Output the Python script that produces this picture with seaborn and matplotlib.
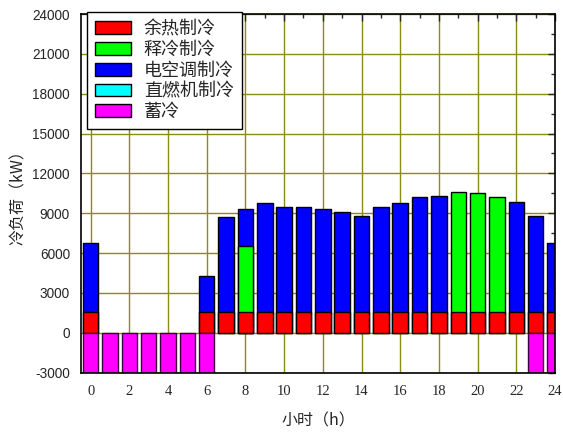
import numpy as np
import pandas as pd
import matplotlib
matplotlib.use("Agg")
import matplotlib.pyplot as plt
from matplotlib.patches import Patch
from matplotlib.ticker import MultipleLocator
import seaborn as sns

hours = list(range(25))
waste_heat = [1600, 0, 0, 0, 0, 0, 1600] + [1600] * 18
release = [0] * 25
release[8] = 4900
release[19] = 9000
release[20] = 8950
release[21] = 8600
electric = [5150, 0, 0, 0, 0, 0, 2700, 7100, 2800, 8200, 7850, 7850, 7700, 7500,
            7200, 7850, 8200, 8600, 8700, 0, 0, 0, 8250, 7200, 5150]
direct_fired = [0] * 25
storage = [-3000] * 7 + [0] * 16 + [-3000, -3000]

labels = ["余热制冷", "释冷制冷", "电空调制冷", "直燃机制冷", "蓄冷"]
colors = ["#ff0000", "#00ff00", "#0000ff", "#00ffff", "#ff00ff"]
x_ticks = list(range(0, 25, 2))
y_ticks = list(range(-3000, 24001, 3000))

sns.set_style("white")
plt.rcParams['font.family'] = ['Noto Sans CJK SC', 'DejaVu Sans']

fig = plt.figure(figsize=(5.63, 4.34), dpi=100)
ax = fig.add_axes([81/563, 1 - 372.7/434, (555-81)/563, (372.7-14)/434])

df = pd.DataFrame({"hour": hours, "red": waste_heat, "green": release,
                   "blue": electric, "cyan": direct_fired, "mag": storage})
df["cum_red"] = df["red"]
df["cum_green"] = df["red"] + df["green"]
df["cum_blue"] = df["cum_green"] + df["cyan"] + df["blue"]

ax.set_axisbelow(True)
grid_c = "#8c8c14"
for xv in x_ticks:
    ax.axvline(xv, color=grid_c, lw=1.0, zorder=0)
for yv in y_ticks:
    ax.axhline(yv, color=grid_c, lw=1.0, zorder=0)

layers = [("cum_blue", "blue", colors[2]), ("cum_green", "green", colors[1]),
          ("cum_red", "red", colors[0])]
for col, raw, c in layers:
    sub = df[df[raw] > 0]
    sns.barplot(data=sub, x="hour", y=col, native_scale=True, color=c,
                saturation=1, edgecolor="black", linewidth=1.0, ax=ax,
                errorbar=None, width=0.8, zorder=2)
sub = df[df["mag"] < 0]
sns.barplot(data=sub, x="hour", y="mag", native_scale=True, color=colors[4],
            saturation=1, edgecolor="#400040", linewidth=1.0, ax=ax,
            errorbar=None, width=0.8, zorder=2)

ax.set_xlim(-0.5, 24)
ax.set_ylim(-3000, 24000)
ax.set_xticks(x_ticks)
ax.set_yticks(y_ticks)
ax.xaxis.set_minor_locator(MultipleLocator(1))
ax.yaxis.set_minor_locator(MultipleLocator(1500))
ax.tick_params(which="both", direction="in", top=True, right=True)
ax.tick_params(which="major", length=5, width=1)
ax.tick_params(which="minor", length=3, width=1)
ax.tick_params(axis="x", which="major", pad=9)
ax.tick_params(axis="y", which="major", pad=8)
for s in ax.spines.values():
    s.set_color("black")
    s.set_linewidth(1.2)
    s.set_zorder(5)

ax.set_xticklabels([str(v) for v in x_ticks], family="Liberation Serif", fontsize=10.5)
ax.set_yticklabels([str(v) for v in y_ticks], family="Liberation Sans", fontsize=9.8)
ax.set_xlabel("小时（h）", fontsize=11.5, labelpad=10)
ax.set_ylabel("冷负荷（kW）", fontsize=11.5, labelpad=4)

handles = [Patch(facecolor=c, edgecolor="black", linewidth=1) for c in colors]
leg = fig.legend(handles, labels, loc="upper left",
                 bbox_to_anchor=(87/563, 1 - 12/434), borderaxespad=0,
                 fancybox=False, edgecolor="black", framealpha=1,
                 fontsize=13, handlelength=2.0, handleheight=0.7,
                 labelspacing=0.15, borderpad=0.45, handletextpad=0.7)
leg.get_frame().set_linewidth(1.0)

fig.savefig("out.png", dpi=100)
